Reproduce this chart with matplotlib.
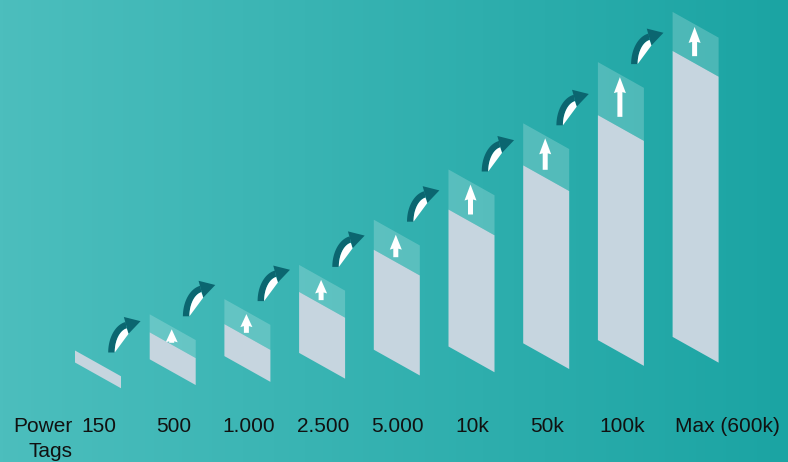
import numpy as np
import matplotlib.pyplot as plt
from matplotlib.patches import Polygon
from matplotlib.colors import LinearSegmentedColormap

plt.rcParams['font.family'] = ['Liberation Sans', 'DejaVu Sans']

# tag tiers and bar sizes (in pixels)
labels = ["150", "500", "1.000", "2.500", "5.000", "10k", "50k", "100k", "Max (600k)"]
body = [12, 27, 32, 61, 100, 137, 178, 225, 286]  # grey part
cap = [0, 18, 25, 27, 30, 40, 42, 53, 39]         # translucent top with arrow

W, H = 788, 462
fig = plt.figure(figsize=(W / 100, H / 100), dpi=100)
ax = fig.add_axes([0, 0, 1, 1])
ax.set_xlim(0, W)
ax.set_ylim(H, 0)
ax.axis('off')

# background gradient left -> right
cmap = LinearSegmentedColormap.from_list('bg', ['#4cbebd', '#1ba4a3'])
ax.imshow(np.linspace(0, 1, 256).reshape(1, -1), cmap=cmap, aspect='auto',
          extent=(0, W, H, 0), zorder=0)

w = 46        # bar width
s = 0.56      # shear slope
x0, dx = 75, 74.7
body_col = '#c6d5df'
dark = '#0b6670'


def up_arrow(xc, ytop, L):
    hw, sw = 6, 2.5
    hl = min(16, max(13, 0.62 * L + 1))
    pts = [(xc, ytop), (xc + hw, ytop + hl), (xc + sw, ytop + hl - 1),
           (xc + sw, ytop + L), (xc - sw, ytop + L), (xc - sw, ytop + hl - 1),
           (xc - hw, ytop + hl)]
    ax.add_patch(Polygon(pts, closed=True, fc='white', ec='none', zorder=3))


def curved_arrow(bx, by):
    rxo, ryo, rxi, ryi = 21, 31, 14.5, 24.5
    cx, cy = bx + 21, by
    te = 100
    t = np.radians(np.linspace(180, te, 30))
    outer = np.c_[cx + rxo * np.cos(t), cy - ryo * np.sin(t)]
    inner = np.c_[cx + rxi * np.cos(t), cy - ryi * np.sin(t)]
    band = np.vstack([outer, inner[::-1]])
    ax.add_patch(Polygon(band, closed=True, fc=dark, ec='none', zorder=6))
    te = np.radians(te)
    rm_x, rm_y = (rxo + rxi) / 2, (ryo + ryi) / 2
    mid = np.array([cx + rm_x * np.cos(te), cy - rm_y * np.sin(te)])
    d = np.array([rm_x * np.sin(te), rm_y * np.cos(te)])
    d /= np.linalg.norm(d)
    n = np.array([d[1], -d[0]])
    tip = mid + 15 * d
    low = mid - 9 * n
    head = [mid + 8.5 * n, tip, low]
    ax.add_patch(Polygon(head, closed=True, fc=dark, ec='none', zorder=6))
    white = np.vstack([inner, [low]])
    ax.add_patch(Polygon(white, closed=True, fc='white', ec='none', zorder=7))


prev_top = None
for i in range(len(labels)):
    xl = x0 + dx * i
    yb = 362.5 - 3.2 * i
    yt = yb - body[i]
    yc = yt - cap[i]
    ax.add_patch(Polygon([(xl, yb), (xl + w, yb + s * w), (xl + w, yt + s * w), (xl, yt)],
                         closed=True, fc=body_col, ec='none', zorder=4))
    if cap[i] > 0:
        ax.add_patch(Polygon([(xl, yt), (xl + w, yt + s * w), (xl + w, yc + s * w), (xl, yc)],
                             closed=True, fc=(1, 1, 1, 0.2), ec='none', zorder=2))
        up_arrow(xl + w / 2 - 1, yc + 15, 0.75 * cap[i])
    if prev_top is not None:
        curved_arrow(xl - 41.5, prev_top + 2)
    prev_top = yc

    if i < len(labels) - 1:
        ax.text(xl + w / 2 + 1, 432, labels[i], ha='center', va='baseline',
                fontsize=15, color='#111111', zorder=8)
    else:
        ax.text(xl + 2, 432, labels[i], ha='left', va='baseline',
                fontsize=15, color='#111111', zorder=8)

ax.text(73, 432, "Power", ha='right', va='baseline', fontsize=15, color='#111111')
ax.text(73, 457, "Tags", ha='right', va='baseline', fontsize=15, color='#111111')

fig.savefig('out.png', dpi=100)
